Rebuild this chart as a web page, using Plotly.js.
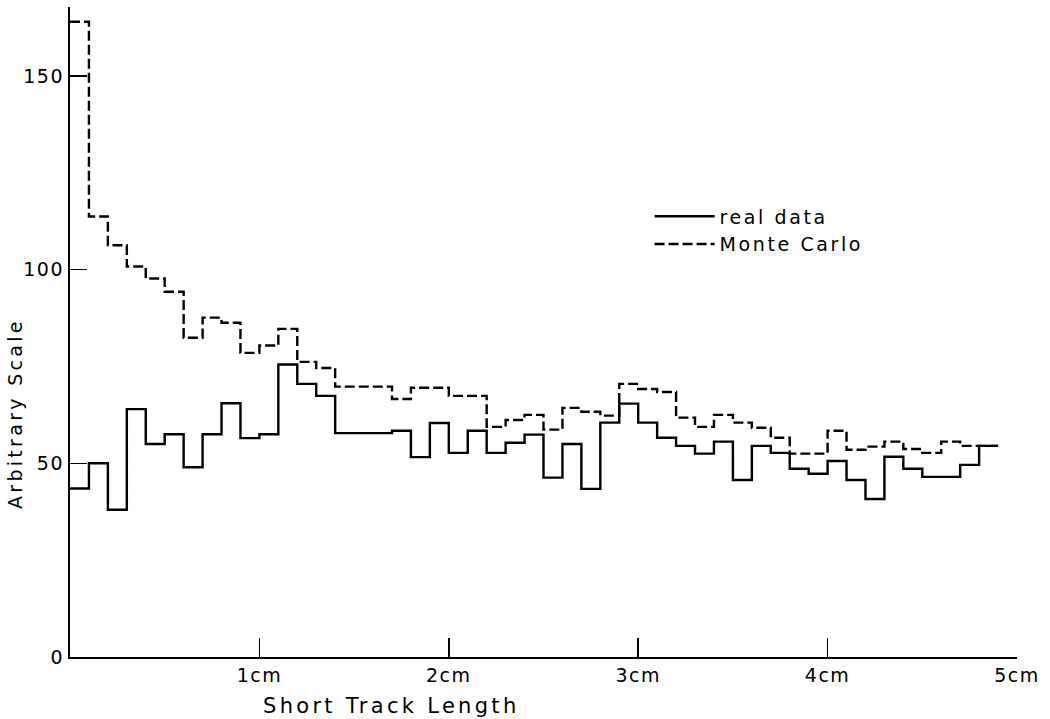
<!DOCTYPE html>
<html>
<head>
<meta charset="utf-8">
<script src="https://cdn.plot.ly/plotly-3.0.1.min.js"></script>
<style>
  html, body { margin: 0; padding: 0; background: #fff; }
  #chart { width: 1050px; height: 719px; }
  .xtick text, .ytick text { letter-spacing: 1.5px; }
  .annotation-text { letter-spacing: 3.3px; }
  text.legendtext { letter-spacing: 2.6px; }
</style>
</head>
<body>
<div id="chart"></div>
<script>
// Bin width of the histograms (cm)
const binWidth = 0.1;

// Real data, one value per 0.1 cm bin, from 0 to 4.9 cm
const realData = [
  43.5, 50, 38, 64, 55, 57.5, 49, 57.5, 65.5, 56.5,
  57.5, 75.5, 70.5, 67.4, 57.8, 57.8, 57.8, 58.4, 51.6, 60.4,
  52.7, 58.4, 52.7, 55.3, 57.4, 46.3, 55, 43.4, 60.5, 65.4,
  60.5, 56.6, 54.5, 52.5, 55.6, 45.7, 54.5, 52.7, 48.6, 47.3,
  50.6, 45.7, 40.8, 51.7, 48.6, 46.5, 46.5, 49.6, 54.5
];

// Monte Carlo, same bins
const monteCarlo = [
  164, 113.7, 106.3, 100.8, 97.7, 94.3, 82.4, 87.6, 86.3, 78.5,
  80.4, 84.7, 76.2, 74.6, 69.8, 69.8, 69.8, 66.6, 69.5, 69.5,
  67.4, 67.4, 59.4, 61.2, 62.5, 58.7, 64.3, 63.3, 62.3, 70.5,
  69.2, 68.4, 61.8, 59.4, 62.5, 60.5, 59.2, 56.6, 52.5, 52.5,
  58.4, 53.5, 54.3, 55.6, 53.7, 52.7, 55.6, 54.5, 54.5
];

const xTickVals = [1, 2, 3, 4, 5];
const xTickText = ['1cm', '2cm', '3cm', '4cm', '5cm'];
const yTickVals = [0, 50, 100, 150];
const yTickText = ['0', '50', '100', '150'];

// Build step-histogram outlines: left edges of each bin + closing right edge
function stepX(vals) {
  const xs = vals.map((_, i) => +(i * binWidth).toFixed(2));
  xs.push(+(vals.length * binWidth).toFixed(2));
  return xs;
}
function stepY(vals) {
  return vals.concat([vals[vals.length - 1]]);
}

const FONT = 'DejaVu Sans, sans-serif';

const traces = [
  {
    x: stepX(realData), y: stepY(realData),
    type: 'scatter', mode: 'lines', name: 'real data',
    line: { shape: 'hv', color: '#000', width: 2.4 },
    hoverinfo: 'skip'
  },
  {
    x: stepX(monteCarlo), y: stepY(monteCarlo),
    type: 'scatter', mode: 'lines', name: 'Monte Carlo',
    line: { shape: 'hv', color: '#000', width: 2.4, dash: '10px,4px' },
    hoverinfo: 'skip'
  }
];

const layout = {
  width: 1050, height: 719,
  margin: { l: 70, r: 33, t: 7, b: 62 },
  paper_bgcolor: '#fff', plot_bgcolor: '#fff',
  font: { family: FONT, color: '#000', size: 19 },
  showlegend: true,
  legend: {
    x: 0.612, y: 0.707, xanchor: 'left', yanchor: 'top',
    bgcolor: 'rgba(0,0,0,0)', borderwidth: 0,
    font: { family: FONT, size: 19, color: '#000' },
    itemwidth: 60, tracegroupgap: 0
  },
  xaxis: {
    range: [0, 5], showgrid: false, zeroline: false,
    showline: true, linecolor: '#000', linewidth: 2.2,
    ticks: 'inside', ticklen: 19, tickwidth: 1.5, tickcolor: '#000',
    tickmode: 'array', tickvals: xTickVals, ticktext: xTickText,
    tickfont: { family: FONT, size: 19, color: '#000' },
    fixedrange: true
  },
  yaxis: {
    range: [0, 167.8], showgrid: false, zeroline: false,
    showline: true, linecolor: '#000', linewidth: 2.2,
    ticks: 'inside', ticklen: 17, tickwidth: 1.5, tickcolor: '#000',
    tickmode: 'array', tickvals: yTickVals, ticktext: yTickText,
    tickfont: { family: FONT, size: 19, color: '#000' },
    fixedrange: true
  },
  annotations: [
    {
      text: 'Short Track Length', xref: 'paper', yref: 'paper',
      x: 0.339, y: -0.0754, xanchor: 'center', yanchor: 'middle',
      showarrow: false, font: { family: FONT, size: 21, color: '#000' }
    },
    {
      text: 'Arbitrary Scale', xref: 'paper', yref: 'paper',
      x: -0.058, y: 0.374, xanchor: 'center', yanchor: 'middle',
      textangle: -90, showarrow: false,
      font: { family: FONT, size: 19, color: '#000' }
    }
  ]
};

Plotly.newPlot('chart', traces, layout, { displayModeBar: false, staticPlot: true });
</script>
</body>
</html>
